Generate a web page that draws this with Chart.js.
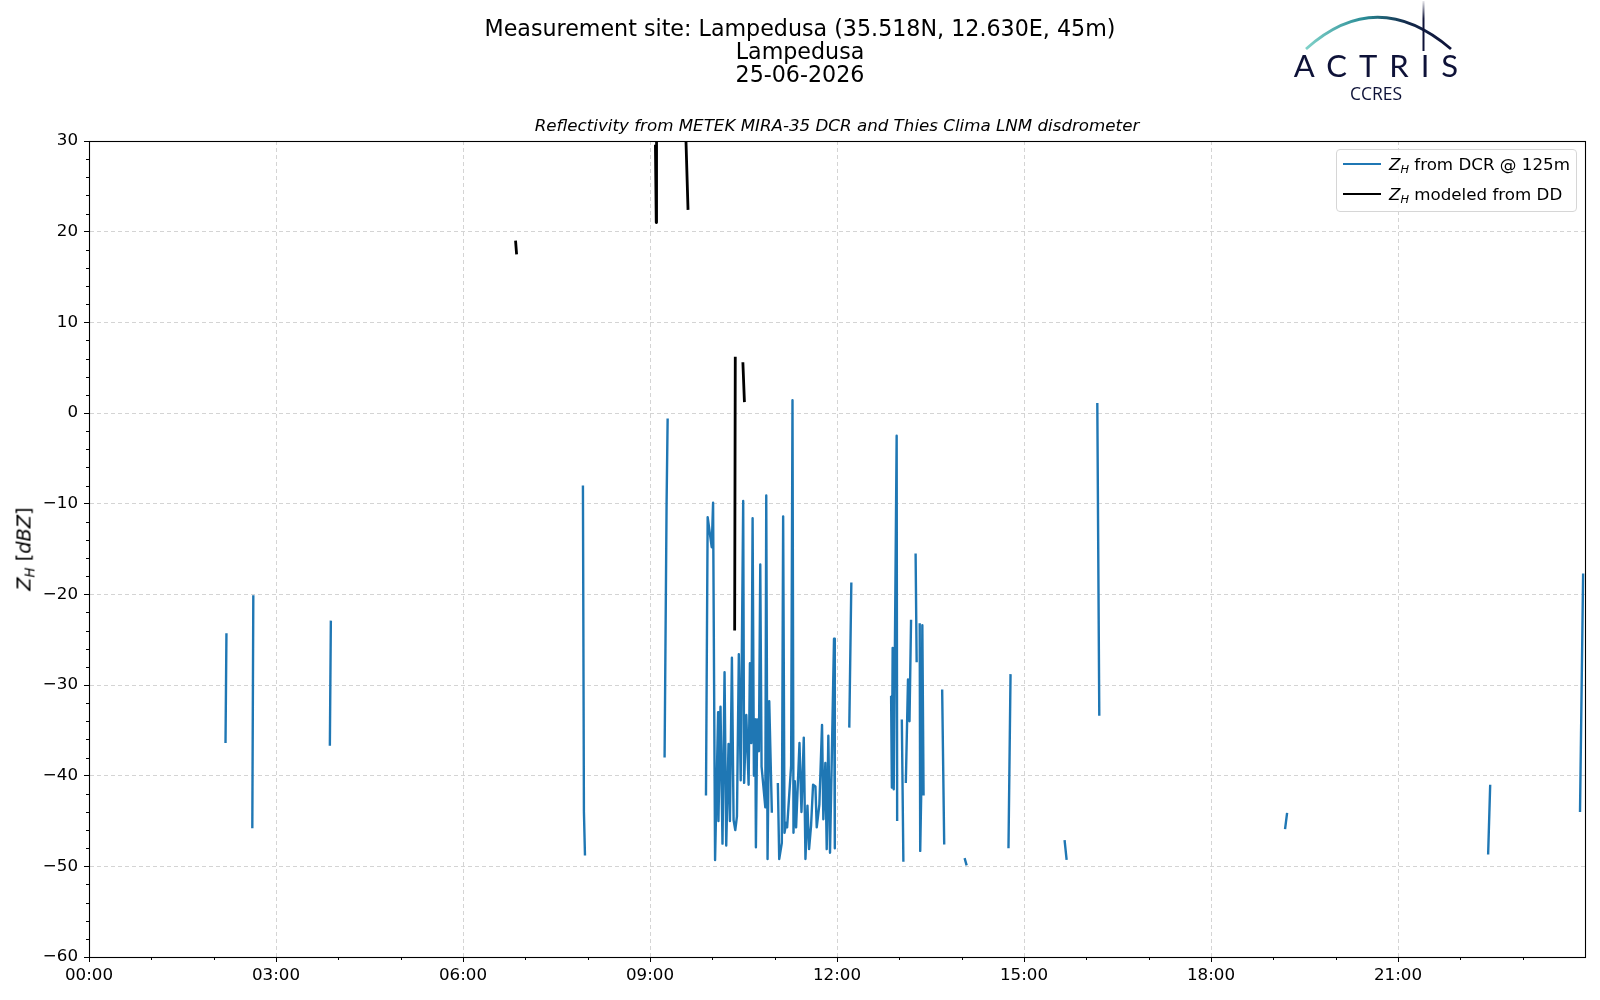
<!DOCTYPE html>
<html>
<head>
<meta charset="utf-8">
<title>Lampedusa reflectivity 25-06-2026</title>
<script src="https://cdn.jsdelivr.net/npm/chart.js@4.4.1/dist/chart.umd.min.js"></script>
<style>
  html, body { margin: 0; padding: 0; background: #fff; }
  #wrap { position: relative; width: 1600px; height: 1000px; font-family: "DejaVu Sans", sans-serif; color: #000; overflow: hidden; }
  #chart { position: absolute; left: 0; top: 0; }
  .hdr { position: absolute; left: 400px; top: 17px; width: 800px; text-align: center; font-size: 22.2px; line-height: 23px; }
  .sub { position: absolute; left: 437px; top: 115px; width: 800px; text-align: center; font-size: 16.7px; line-height: 21px; font-style: italic; }
  .ylab { position: absolute; left: 24px; top: 549px; transform: translate(-50%, -50%) rotate(-90deg); white-space: nowrap; font-size: 19.4px; }
  sub { font-size: 68%; vertical-align: -0.28em; line-height: 0; font-style: italic; }
  .legend { position: absolute; left: 1336px; top: 149px; width: 239px; height: 61px; border: 1px solid #d6d6d6; border-radius: 4px; background: rgba(255,255,255,0.85); }
  .row { position: absolute; left: 0; height: 22px; font-size: 16.7px; line-height: 22px; white-space: nowrap; }
  .row .ln { position: absolute; left: 6px; width: 38px; top: 10px; }
  .row .tx { position: absolute; left: 52px; top: 0; }
  .logo-txt { position: absolute; left: 1276px; top: 48px; width: 200px; text-align: center; font-family: Lato, "Open Sans", sans-serif; font-size: 31px; line-height: 34px; color: #0e1238; }
  .logo-txt span { letter-spacing: 12px; margin-right: -12px; }
  .logo-sub { position: absolute; left: 1326px; top: 83px; width: 100px; text-align: center; font-family: "Open Sans", sans-serif; font-size: 17.5px; line-height: 20px; color: #0e1238; }
  #arc { position: absolute; left: 1280px; top: 0; }
</style>
</head>
<body>
<div id="wrap">
  <canvas id="chart" width="1600" height="1000"></canvas>

  <div class="hdr">Measurement site: Lampedusa (35.518N, 12.630E, 45m)<br>Lampedusa<br>25-06-2026</div>
  <div class="sub">Reflectivity from METEK MIRA-35 DCR and Thies Clima LNM disdrometer</div>
  <div class="ylab"><i>Z</i><sub>H</sub> [<i>dBZ</i>]</div>

  <div class="legend">
    <div class="row" style="top:3px"><span class="ln" style="border-top:2.2px solid #1f77b4"></span><span class="tx"><i>Z</i><sub>H</sub> from DCR @ 125m</span></div>
    <div class="row" style="top:33px"><span class="ln" style="border-top:2.8px solid #000"></span><span class="tx"><i>Z</i><sub>H</sub> modeled from DD</span></div>
  </div>

  <svg id="arc" width="190" height="60" viewBox="0 0 190 60">
    <defs>
      <linearGradient id="g" gradientUnits="userSpaceOnUse" x1="26" y1="0" x2="171" y2="0">
        <stop offset="0" stop-color="#80d2c9"/>
        <stop offset="0.4" stop-color="#2a8c96"/>
        <stop offset="0.7" stop-color="#13284a"/>
        <stop offset="1" stop-color="#0e1238"/>
      </linearGradient>
      <linearGradient id="v" gradientUnits="userSpaceOnUse" x1="0" y1="1" x2="0" y2="52">
        <stop offset="0" stop-color="#0e1238" stop-opacity="0.1"/>
        <stop offset="0.35" stop-color="#0e1238"/>
        <stop offset="1" stop-color="#0e1238"/>
      </linearGradient>
    </defs>
    <path d="M26,49 Q96.7,-14.4 171,49" fill="none" stroke="url(#g)" stroke-width="2.8"/>
    <line x1="143.5" y1="1" x2="143.5" y2="51" stroke="url(#v)" stroke-width="2"/>
  </svg>
  <div class="logo-txt"><span>ACTRIS</span></div>
  <div class="logo-sub">CCRES</div>
</div>

<script>
// Z_H from cloud radar (DCR) at 125 m, hours UTC; null = gap
const dcrTime = [
  2.190, 2.205, null,
  2.620, 2.636, null,
  3.864, 3.880, null,
  7.924, 7.940, 7.957, null,
  9.234, 9.266, 9.283, null,
  9.898, 9.925, 9.990, 10.012, 10.044, 10.093, 10.098, 10.131, 10.163, 10.196,
  10.223, 10.260, 10.282, 10.314, 10.341, 10.368, 10.395, 10.425, 10.455, 10.495,
  10.510, 10.545, 10.582, 10.603, 10.625, 10.646, 10.667, 10.689, 10.699, 10.721,
  10.747, 10.769, 10.790, 10.850, 10.865, 10.886, 10.913, 10.955, null,
  11.051, 11.073, 11.115, 11.136, 11.158, 11.184, 11.200, 11.264, 11.286, 11.302,
  11.323, 11.344, 11.398, 11.430, 11.467, 11.494, 11.526, 11.552, 11.584, 11.616,
  11.654, 11.675, 11.717, 11.760, 11.781, 11.813, 11.835, 11.861, 11.888, 11.952,
  11.965, null,
  12.197, 12.230, null,
  12.868, 12.880, 12.893, 12.910, 12.957, 12.965, null,
  13.040, 13.065, null,
  13.104, 13.139, 13.163, 13.188, null,
  13.261, 13.278, null,
  13.327, 13.335, 13.350, 13.369, 13.389, null,
  13.687, 13.720, null,
  14.047, 14.080, null,
  14.751, 14.784, null,
  15.651, 15.684, null,
  16.176, 16.208, null,
  19.188, 19.221, null,
  22.446, 22.479, null,
  23.920, 23.970
];
const dcrZh = [
  -36.4, -24.3, null,
  -45.8, -20.1, null,
  -36.7, -22.9, null,
  -8.0, -44.0, -48.8, null,
  -38.0, -10.0, -0.6, null,
  -42.2, -11.5, -14.8, -9.9, -49.3, -33.0, -45.0, -32.4, -47.5, -28.6,
  -47.7, -36.5, -45.0, -27.0, -44.9, -46.0, -44.5, -26.6, -40.5, -9.7,
  -40.8, -33.3, -41.0, -27.6, -36.4, -11.6, -40.0, -33.8, -47.9, -33.8,
  -37.3, -16.7, -39.0, -43.5, -9.1, -49.2, -31.8, -44.1, null,
  -40.8, -49.2, -47.4, -11.4, -46.3, -45.2, -45.7, -38.9, 1.4, -46.3,
  -40.6, -45.7, -36.4, -44.0, -35.8, -49.2, -43.3, -48.1, -45.5, -41.0,
  -41.2, -45.7, -43.2, -34.4, -44.8, -38.6, -48.1, -35.6, -48.5, -24.9,
  -48.0, null,
  -34.7, -18.7, null,
  -31.2, -41.3, -25.9, -41.5, -2.5, -45.0, null,
  -33.8, -49.5, null,
  -40.8, -29.4, -34.0, -22.8, null,
  -15.5, -27.5, null,
  -23.2, -48.3, -42.4, -23.4, -42.2, null,
  -30.5, -47.6, null,
  -49.1, -49.9, null,
  -48.0, -28.8, null,
  -47.1, -49.3, null,
  1.1, -33.4, null,
  -45.9, -44.1, null,
  -48.7, -41.0, null,
  -44.0, -17.7
];

// Z_H modeled from disdrometer (DD)
const ddTime = [6.843, 6.860, null, 9.087, 9.100, 9.105, null, 9.575, 9.610, null, 10.358, 10.368, null, 10.490, 10.515];
const ddZh   = [19.0, 17.5, null, 29.6, 21.0, 35.0, null, 30.5, 22.4, null, -24.0, 6.2, null, 5.6, 1.2];

const xTickHours = [0, 3, 6, 9, 12, 15, 18, 21];
const xTickLabels = ['00:00', '03:00', '06:00', '09:00', '12:00', '15:00', '18:00', '21:00'];
const yTickValues = [-60, -50, -40, -30, -20, -10, 0, 10, 20, 30];
const yTickLabels = ['\u221260', '\u221250', '\u221240', '\u221230', '\u221220', '\u221210', '0', '10', '20', '30'];

const xMinor = [];
for (let h = 1; h < 24; h++) if (h % 3) xMinor.push(h);
const yMinor = [];
for (let v = -58; v < 30; v += 2) if (v % 10) yMinor.push(v);

function toPoints(t, z) {
  return t.map((x, i) => ({ x: x, y: z[i] }));
}

const tickFont = { family: 'DejaVu Sans', size: 16.7 };

// minor ticks and the closed frame (matplotlib style)
const frame = {
  id: 'frame',
  afterDraw(chart) {
    const { ctx, chartArea: a, scales: { x, y } } = chart;
    ctx.save();
    ctx.strokeStyle = '#000';
    ctx.lineWidth = 1;
    ctx.beginPath();
    xMinor.forEach(h => {
      const px = Math.round(x.getPixelForValue(h)) + 0.5;
      ctx.moveTo(px, a.bottom);
      ctx.lineTo(px, a.bottom + 3);
    });
    yMinor.forEach(v => {
      const py = Math.round(y.getPixelForValue(v)) + 0.5;
      ctx.moveTo(a.left, py);
      ctx.lineTo(a.left - 3, py);
    });
    ctx.stroke();
    ctx.lineWidth = 1.1;
    ctx.strokeRect(Math.round(a.left) + 0.5, Math.round(a.top) + 0.5, Math.round(a.right - a.left), Math.round(a.bottom - a.top));
    ctx.restore();
  }
};

new Chart(document.getElementById('chart'), {
  type: 'line',
  data: {
    datasets: [
      {
        label: 'Z_H from DCR @ 125m',
        data: toPoints(dcrTime, dcrZh),
        borderColor: '#1f77b4',
        borderWidth: 2.4,
        pointRadius: 0,
        tension: 0,
        spanGaps: false,
        borderJoinStyle: 'round',
        clip: 0
      },
      {
        label: 'Z_H modeled from DD',
        data: toPoints(ddTime, ddZh),
        borderColor: '#000',
        borderWidth: 2.8,
        pointRadius: 0,
        tension: 0,
        spanGaps: false,
        borderJoinStyle: 'round',
        clip: 0
      }
    ]
  },
  options: {
    responsive: false,
    animation: false,
    events: [],
    layout: { padding: { top: 141, right: 15, bottom: 0, left: 0 } },
    plugins: { legend: { display: false }, title: { display: false }, tooltip: { enabled: false } },
    scales: {
      x: {
        type: 'linear',
        min: 0,
        max: 24,
        afterBuildTicks: s => { s.ticks = xTickHours.map(v => ({ value: v })); },
        afterFit: s => { s.height = 43; },
        ticks: { autoSkip: false, maxRotation: 0, padding: 4, color: '#000', font: tickFont,
                 callback: (v, i) => xTickLabels[i] },
        grid: { color: '#d4d4d4', lineWidth: 1, tickColor: '#000', tickLength: 5, tickWidth: 1 },
        border: { display: true, color: '#000', width: 1, dash: [4, 3] }
      },
      y: {
        type: 'linear',
        min: -60,
        max: 30,
        afterBuildTicks: s => { s.ticks = yTickValues.map(v => ({ value: v })); },
        afterFit: s => { s.width = 89; },
        ticks: { autoSkip: false, padding: 6, color: '#000', font: tickFont,
                 callback: (v, i) => yTickLabels[i] },
        grid: { color: '#d4d4d4', lineWidth: 1, tickColor: '#000', tickLength: 5, tickWidth: 1 },
        border: { display: true, color: '#000', width: 1, dash: [4, 3] }
      }
    }
  },
  plugins: [frame]
});
</script>
</body>
</html>
